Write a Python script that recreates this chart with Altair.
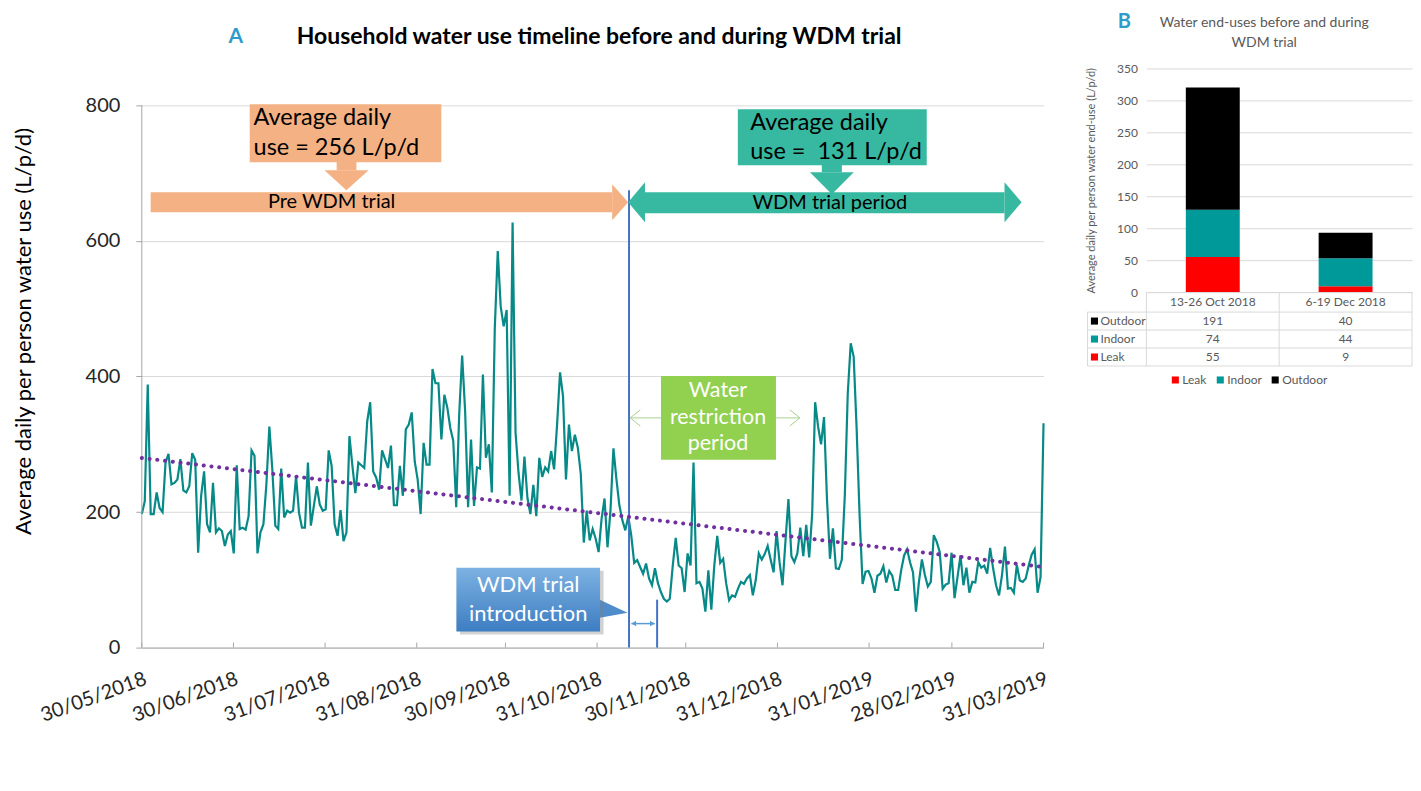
import altair as alt
import pandas as pd

FONT = "Lato"

# ---------------- data ----------------
# daily per-person water use, 30/05/2018 .. 31/03/2019 (L/p/d)
daily_use = [
    197, 216, 388, 197, 197, 229, 206, 200, 273, 286, 241, 243, 248, 278, 232, 229,
    238, 287, 277, 140, 224, 260, 182, 170, 243, 170, 176, 172, 150, 167, 172, 139,
    269, 175, 177, 174, 194, 291, 283, 139, 170, 182, 241, 326, 263, 180, 175,
    264, 192, 202, 199, 202, 253, 199, 177, 177, 273, 180, 209, 238, 211, 202, 204,
    291, 268, 182, 165, 203, 157, 170, 312, 268, 228, 273, 269, 265, 334, 362, 260,
    251, 233, 291, 278, 265, 298, 210, 210, 268, 224, 322, 329, 347, 275, 248, 197,
    302, 270, 270, 411, 390, 390,
    307, 373, 354, 324, 305, 207, 344, 431, 349, 207, 307, 209, 266, 264, 403, 280,
    300, 229, 471, 585, 503, 474, 498, 224, 627, 317, 258, 217, 282, 221, 197, 240,
    194, 280, 252, 266, 260, 290, 263, 329, 406, 371, 248, 329, 290, 314, 295, 256,
    155, 202, 158,
    175, 161, 141, 190, 220, 148, 202, 294, 249, 210, 188, 173, 193, 166, 125, 129,
    119, 109, 124, 102, 92, 117, 95, 82, 72, 68, 72, 121, 162, 121, 117, 82,
    139, 121, 273, 95, 97, 87, 53, 114, 56, 121, 165, 125, 131, 95, 70, 77, 75, 87, 97,
    94, 102, 107, 77, 100, 139, 130, 138, 150, 130, 111, 172, 126, 92, 157, 219,
    135, 126, 139, 177, 135, 181, 133, 197, 362, 326, 300, 340, 219, 131, 176, 117,
    116, 130, 224, 375, 449, 429, 322, 194, 94, 112, 113, 102, 81, 106, 109, 120, 96, 113, 106,
    85, 85, 114, 136, 145, 126, 111, 53, 97, 130, 107, 90, 97, 166, 156, 141,
    87, 93, 95, 140, 73, 104, 136, 92, 118, 81, 97, 96, 126, 118, 121, 109,
    147, 117, 92, 77, 107, 149, 87, 88, 81, 122, 99, 97, 102, 121, 137, 145, 81, 104, 331,
]
n_days = 305  # 30/05/2018 -> 31/03/2019
tick_days = [0, 31, 62, 93, 123, 154, 184, 215, 246, 274, 305]
tick_labels = ["30/05/2018", "30/06/2018", "31/07/2018", "31/08/2018", "30/09/2018",
               "31/10/2018", "30/11/2018", "31/12/2018", "31/01/2019", "28/02/2019",
               "31/03/2019"]
y_ticks = [0, 200, 400, 600, 800]
pre_trial_avg = 256
trial_avg = 131

periods = ["13-26 Oct 2018", "6-19 Dec 2018"]
end_uses = ["Leak", "Indoor", "Outdoor"]
leak_use = [55, 9]
indoor_use = [74, 44]
outdoor_use = [191, 40]
b_ticks = [0, 50, 100, 150, 200, 250, 300, 350]

# ---------------- chart A ----------------
step = n_days / (len(daily_use) - 1)
df = pd.DataFrame({"day": [i * step for i in range(len(daily_use))], "use": daily_use})

W = 903
H = 580                      # plot area incl. the headroom used by the arrows
Y_TOP = 800 * H / 543        # so that 800 sits 37 px below the top of the area
xs = alt.Scale(domain=[0, n_days], nice=False, zero=False)
ys = alt.Scale(domain=[0, Y_TOP], nice=False, zero=True)

label_expr = ("[" + ",".join("'%s'" % t for t in tick_labels) + "][indexof(["
              + ",".join(str(d) for d in tick_days) + "], datum.value)]")

x_axis = alt.Axis(values=tick_days, labelExpr=label_expr, labelAngle=-20, labelAlign="right",
                  labelBaseline="top", labelFontSize=20, labelColor="#262626", labelPadding=21,
                  labelOverlap=False, labelBound=False, labelFlush=False,
                  ticks=False, domainColor="#A6A6A6", grid=False, title=None)
y_axis = alt.Axis(values=y_ticks, labelFontSize=20, labelColor="#262626",
                  labelPadding=16, tickSize=6, tickColor="#A6A6A6", domain=False,
                  gridColor="#D9D9D9", title="Average daily per person water use (L/p/d)",
                  titleFontSize=22, titleFontWeight="normal", titleColor="#000000",
                  titlePadding=50, titleY=263)


def qx(f="x"):
    return alt.X(f + ":Q", scale=xs, axis=x_axis)


def qy(f="y"):
    return alt.Y(f + ":Q", scale=ys, axis=y_axis, stack=None)


line = alt.Chart(df).mark_line(color="#078A87", strokeWidth=2.2).encode(
    x=qx("day"), y=qy("use"))

trend = alt.Chart(df).transform_regression("day", "use", extent=[0, n_days]).mark_line(
    color="#7030A0", strokeDash=[0.1, 7.7], strokeCap="round", strokeWidth=4
).encode(x=qx("day"), y=qy("use"))

xtick_df = pd.DataFrame({"day": tick_days})
xticks = alt.Chart(xtick_df).mark_rule(color="#A6A6A6", strokeWidth=1).encode(
    x=qx("day"), y=alt.value(H), y2=alt.value(H - 5))

ydom_df = pd.DataFrame({"y": [y_ticks[-1]], "y2": [0]})
ydomain = alt.Chart(ydom_df).mark_rule(color="#A6A6A6", strokeWidth=1).encode(
    x=alt.value(0), y=qy("y"), y2="y2:Q")

ORANGE = "#F4B183"
TEAL = "#37B8A0"
GREEN = "#92D050"

rect_df = pd.DataFrame([
    dict(x=36.5, x2=101.3, y=716.0, y2=801.5, fill=ORANGE),
    dict(x=65.9, x2=72.6, y=704.2, y2=716.5, fill=ORANGE),
    dict(x=3.0, x2=159.1, y=642.4, y2=671.8, fill=ORANGE),
    dict(x=201.6, x2=265.5, y=711.6, y2=794.1, fill=TEAL),
    dict(x=230.0, x2=236.8, y=701.3, y2=712.0, fill=TEAL),
    dict(x=170.2, x2=291.8, y=640.9, y2=671.8, fill=TEAL),
    dict(x=175.6, x2=214.5, y=277.0, y2=400.7, fill=GREEN),
])
rects = alt.Chart(rect_df).mark_rect().encode(
    x=qx("x"), x2="x2:Q", y=qy("y"), y2="y2:Q", color=alt.Color("fill:N", scale=None))

# callout shadow + box (gradient)
shadow_df = pd.DataFrame([dict(x=107.6, x2=156.2, y=19.2, y2=113.5)])
shadow = alt.Chart(shadow_df).mark_rect(color="#7F7F7F", opacity=0.35).encode(
    x=qx("x"), x2="x2:Q", y=qy("y"), y2="y2:Q")
callout_df = pd.DataFrame([dict(x=106.4, x2=155.0, y=23.6, y2=117.9)])
callout = alt.Chart(callout_df).mark_rect(
    color=alt.Gradient(gradient="linear", x1=0, x2=0, y1=0, y2=1,
                       stops=[alt.GradientStop(color="#7DB2E2", offset=0),
                              alt.GradientStop(color="#3D7DC2", offset=1)])
).encode(x=qx("x"), x2="x2:Q", y=qy("y"), y2="y2:Q")

# down-pointing triangles (vertical areas)
down_df = pd.DataFrame([
    dict(id="o", x=61.8, y=704.2, y2=704.2, fill=ORANGE),
    dict(id="o", x=69.2, y=704.2, y2=674.8, fill=ORANGE),
    dict(id="o", x=76.7, y=704.2, y2=704.2, fill=ORANGE),
    dict(id="t", x=226.0, y=701.3, y2=701.3, fill=TEAL),
    dict(id="t", x=233.4, y=701.3, y2=668.9, fill=TEAL),
    dict(id="t", x=240.8, y=701.3, y2=701.3, fill=TEAL),
])
downs = alt.Chart(down_df).mark_area(orient="vertical").encode(
    x=qx("x"), y=qy("y"), y2="y2:Q", detail="id:N", color=alt.Color("fill:N", scale=None))

# sideways triangles (horizontal areas)
side_df = pd.DataFrame([
    dict(id="o", y=630.6, x=159.1, x2=159.1, fill=ORANGE),
    dict(id="o", y=657.1, x=159.1, x2=164.5, fill=ORANGE),
    dict(id="o", y=683.6, x=159.1, x2=159.1, fill=ORANGE),
    dict(id="tl", y=627.6, x=170.2, x2=170.2, fill=TEAL),
    dict(id="tl", y=657.1, x=170.2, x2=164.5, fill=TEAL),
    dict(id="tl", y=686.5, x=170.2, x2=170.2, fill=TEAL),
    dict(id="tr", y=627.6, x=291.8, x2=291.8, fill=TEAL),
    dict(id="tr", y=657.1, x=291.8, x2=297.6, fill=TEAL),
    dict(id="tr", y=686.5, x=291.8, x2=291.8, fill=TEAL),
    dict(id="c", y=44.2, x=154.9, x2=154.9, fill="#4F8CCB"),
    dict(id="c", y=51.6, x=154.9, x2=164.3, fill="#4F8CCB"),
    dict(id="c", y=70.7, x=154.9, x2=154.9, fill="#4F8CCB"),
])
sides = alt.Chart(side_df).mark_area(orient="horizontal").encode(
    y=alt.Y("y:Q", scale=ys, axis=y_axis), x=alt.X("x:Q", scale=xs, axis=x_axis, stack=None),
    x2="x2:Q", detail="id:N", color=alt.Color("fill:N", scale=None))

# rules: blue lines, small arrow, light-green arrows
blue_df = pd.DataFrame([
    dict(x=164.8, x2=164.8, y=674.8, y2=0),
    dict(x=174.3, x2=174.3, y=70.7, y2=0),
])
blue_rules = alt.Chart(blue_df).mark_rule(color="#4472C4", strokeWidth=2).encode(
    x=qx("x"), x2="x2:Q", y=qy("y"), y2="y2:Q")
small_df = pd.DataFrame([dict(x=165.6, x2=173.5, y=35.4, y2=35.4)])
small_rule = alt.Chart(small_df).mark_rule(color="#5B9BD5", strokeWidth=1.5).encode(
    x=qx("x"), x2="x2:Q", y=qy("y"), y2="y2:Q")
small_heads_df = pd.DataFrame([dict(x=166.4, y=35.4, s="triangle-left"),
                               dict(x=172.7, y=35.4, s="triangle-right")])
small_heads = alt.Chart(small_heads_df).mark_point(filled=True, size=30, color="#5B9BD5",
                                                   opacity=1).encode(
    x=qx("x"), y=qy("y"), shape=alt.Shape("s:N", scale=None))
green_df = pd.DataFrame([
    dict(x=165.2, x2=175.6, y=338.9, y2=338.9),
    dict(x=214.5, x2=222.6, y=338.9, y2=338.9),
    dict(x=165.2, x2=168.6, y=338.9, y2=350.7),
    dict(x=165.2, x2=168.6, y=338.9, y2=327.1),
    dict(x=222.6, x2=219.2, y=338.9, y2=350.7),
    dict(x=222.6, x2=219.2, y=338.9, y2=327.1),
])
green_rules = alt.Chart(green_df).mark_rule(color="#A9D18E", strokeWidth=1).encode(
    x=qx("x"), x2="x2:Q", y=qy("y"), y2="y2:Q")

# texts
avg_df = pd.DataFrame([
    dict(x=37.8, y=780.8, t="Average daily"),
    dict(x=37.8, y=736.6, t="use = %d L/p/d" % pre_trial_avg),
    dict(x=205.8, y=773.5, t="Average daily"),
    dict(x=205.8, y=730.8, t="use =\u00a0 %d L/p/d" % trial_avg),
])
avg_text = alt.Chart(avg_df).mark_text(align="left", baseline="middle", fontSize=23.5,
                                       color="#000000").encode(x=qx("x"), y=qy("y"), text="t:N")
per_df = pd.DataFrame([dict(x=64.2, y=657.5, t="Pre WDM trial"),
                       dict(x=232.7, y=655.8, t="WDM trial period")])
per_text = alt.Chart(per_df).mark_text(align="center", baseline="middle", fontSize=20,
                                       color="#000000").encode(x=qx("x"), y=qy("y"), text="t:N")
intro_df = pd.DataFrame([dict(x=130.7, y=92.8, t="WDM trial"),
                         dict(x=130.7, y=50.1, t="introduction")])
intro_text = alt.Chart(intro_df).mark_text(align="center", baseline="middle", fontSize=22,
                                           color="#FFFFFF").encode(x=qx("x"), y=qy("y"), text="t:N")
restr_df = pd.DataFrame([dict(x=194.9, y=378.6, t="Water"),
                         dict(x=194.9, y=338.9, t="restriction"),
                         dict(x=194.9, y=300.6, t="period")])
restr_text = alt.Chart(restr_df).mark_text(align="center", baseline="middle", fontSize=21.5,
                                           color="#FFFFFF").encode(x=qx("x"), y=qy("y"), text="t:N")

one = pd.DataFrame({"k": [0]})
a_label = alt.Chart(one).mark_text(text="A", fontSize=21, fontWeight="bold", color="#2E9BCB",
                                   align="center", baseline="middle").encode(
    x=alt.value(94), y=alt.value(-31))
a_title = alt.Chart(one).mark_text(text="Household water use timeline before and during WDM trial",
                                   fontSize=23, fontWeight="bold", color="#000000",
                                   align="center", baseline="middle").encode(
    x=alt.value(458), y=alt.value(-31))

chart_a = alt.layer(
    line, xticks, ydomain, blue_rules, trend, rects, downs, sides, shadow, callout, small_rule,
    small_heads, green_rules, avg_text, per_text, intro_text, restr_text, a_label, a_title
).properties(width=W, height=H)

# ---------------- chart B ----------------
rows = []
for k, (t, vals) in enumerate(zip(end_uses, [leak_use, indoor_use, outdoor_use])):
    for p, v in zip(periods, vals):
        rows.append({"period": p, "type": t, "value": v, "ord": k})
dfB = pd.DataFrame(rows)

WB, HB = 266, 224
colors = ["#FF0000", "#009999", "#000000"]
bx_scale = alt.Scale(domain=periods, paddingInner=0, paddingOuter=0)
bx_axis = alt.Axis(title=None, labelAngle=0, labelFontSize=12, labelColor="#595959",
                   ticks=False, domainColor="#D9D9D9", labelPadding=4)
bx = alt.X("period:N", sort=periods, scale=bx_scale, axis=bx_axis)
by = alt.Y("value:Q", stack="zero", scale=alt.Scale(domain=[0, 350], nice=False),
           axis=alt.Axis(values=b_ticks, labelFontSize=12, labelColor="#595959",
                         labelPadding=9, ticks=False, domain=False, gridColor="#D9D9D9",
                         title="Average daily per person water end-use (L/p/d)", titleFontSize=11,
                         titleFontWeight="normal", titleColor="#595959", titlePadding=20))
bars = alt.Chart(dfB).mark_bar(size=54).encode(
    x=bx, y=by,
    color=alt.Color("type:N", scale=alt.Scale(domain=end_uses, range=colors), legend=None),
    order=alt.Order("ord:Q", sort="ascending"),
)

row_y = {"Outdoor": 253, "Indoor": 271, "Leak": 289}
table_layers = []
for t, c in zip(end_uses, colors):
    table_layers.append(
        alt.Chart(dfB).transform_filter(alt.datum.type == t).mark_text(
            fontSize=12, color="#595959", baseline="middle").encode(
            x=alt.X("period:N", sort=periods, scale=bx_scale, axis=bx_axis),
            y=alt.value(row_y[t]), text="value:Q"))
    table_layers.append(
        alt.Chart(one).mark_text(text=t, fontSize=12, color="#595959", align="left",
                                 baseline="middle").encode(x=alt.value(-46), y=alt.value(row_y[t])))
    table_layers.append(
        alt.Chart(one).mark_point(shape="square", filled=True, size=50, color=c, opacity=1).encode(
            x=alt.value(-52), y=alt.value(row_y[t])))

# legend below the table
legend_x = {"Leak": 29, "Indoor": 74, "Outdoor": 129}
for t, c in zip(end_uses, colors):
    table_layers.append(
        alt.Chart(one).mark_point(shape="square", filled=True, size=50, color=c, opacity=1).encode(
            x=alt.value(legend_x[t]), y=alt.value(312)))
    table_layers.append(
        alt.Chart(one).mark_text(text=t, fontSize=12, color="#595959", align="left",
                                 baseline="middle").encode(
            x=alt.value(legend_x[t] + 7), y=alt.value(312)))

grid_lines = []
for yy in [244, 262, 280, 298]:
    grid_lines.append(alt.Chart(one).mark_rule(color="#D9D9D9").encode(
        x=alt.value(-59), x2=alt.value(WB), y=alt.value(yy)))
for xx, y0 in [(-59, 244), (0, HB), (WB // 2, HB), (WB, HB)]:
    grid_lines.append(alt.Chart(one).mark_rule(color="#D9D9D9").encode(
        x=alt.value(xx), y=alt.value(y0), y2=alt.value(298)))

b_label = alt.Chart(one).mark_text(text="B", fontSize=20, fontWeight="bold", color="#2E9BCB",
                                   align="center", baseline="middle").encode(
    x=alt.value(-22), y=alt.value(-46))
b_title1 = alt.Chart(one).mark_text(text="Water end-uses before and during", fontSize=14,
                                    color="#595959", align="center", baseline="middle").encode(
    x=alt.value(118), y=alt.value(-45))
b_title2 = alt.Chart(one).mark_text(text="WDM trial", fontSize=14, color="#595959",
                                    align="center", baseline="middle").encode(
    x=alt.value(118), y=alt.value(-25))

chart_b = alt.layer(bars, *grid_lines, *table_layers, b_label, b_title1, b_title2).properties(
    width=WB, height=HB)

chart = alt.hconcat(chart_a, chart_b, spacing=34).properties(
    padding={"left": 4, "top": 4, "right": 0, "bottom": 2}
).configure(font=FONT).configure_view(stroke=None)

chart.save("out.html", embed_options={"renderer": "svg", "actions": False})
